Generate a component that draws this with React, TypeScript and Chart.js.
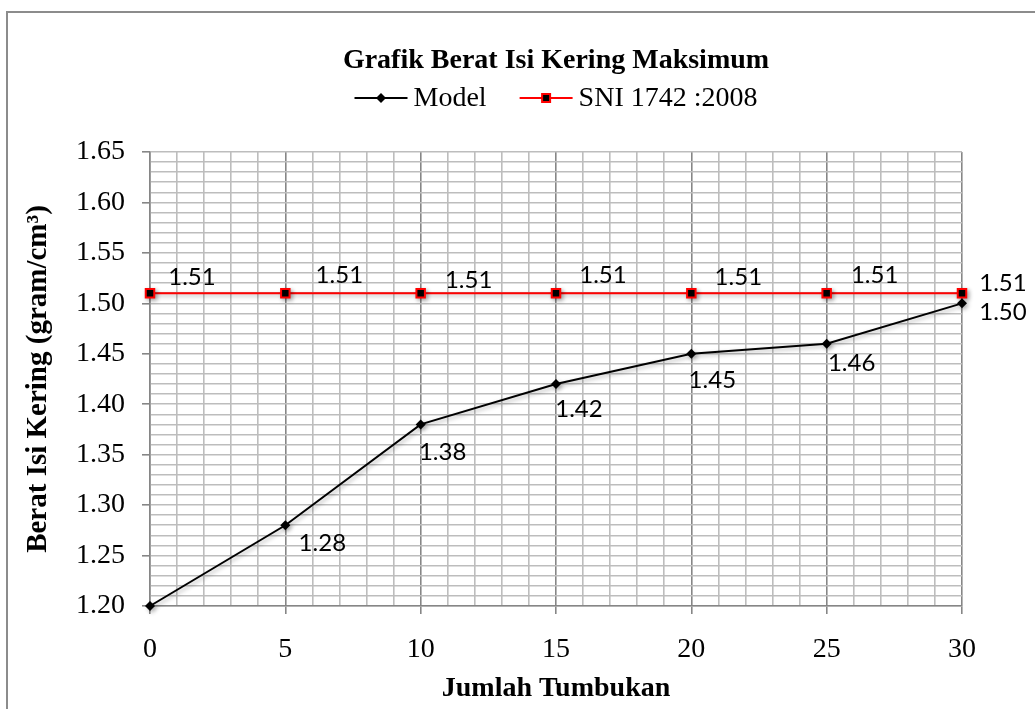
import React, { useEffect, useRef } from "react";
import { Chart, registerables } from "chart.js";

Chart.register(...registerables);

// ---- data ----
const xValues = [0, 5, 10, 15, 20, 25, 30];
const modelValues = [1.2, 1.28, 1.38, 1.42, 1.45, 1.46, 1.5];
const sniValues = [1.51, 1.51, 1.51, 1.51, 1.51, 1.51, 1.51];
const seriesNames = ["Model", "SNI 1742 :2008"];
const chartTitle = "Grafik Berat Isi Kering Maksimum";
const xAxisTitle = "Jumlah Tumbukan";
const yAxisTitle = "Berat Isi Kering (gram/cm³)";
const yRange = [1.2, 1.65];
const xRange = [0, 30];
const modelLabelShown = [false, true, true, true, true, true, true];

// ---- style (label offsets relative to the point) ----
const modelLabelOffsets = [
  [0, 0],
  [37, 18],
  [22, 28],
  [23, 25],
  [21, 26],
  [25, 20],
  [41, 9],
];
const sniLabelOffsets = [
  [42, -16],
  [54, -18],
  [48, -13],
  [47, -18],
  [47, -16],
  [48, -18],
  [41, -10],
];

const SERIF = "'Liberation Serif', 'Times New Roman', serif";
const LABEL_FONT = "24px Lato, 'Open Sans', sans-serif";

const decorPlugin = {
  id: "decor",
  beforeDraw(chart: any) {
    const { ctx } = chart;
    ctx.save();
    ctx.fillStyle = "#ffffff";
    ctx.fillRect(0, 0, chart.width, chart.height);
    ctx.strokeStyle = "#8c8c8c";
    ctx.lineWidth = 2;
    ctx.beginPath();
    ctx.moveTo(7, chart.height);
    ctx.lineTo(7, 12);
    ctx.lineTo(chart.width, 12);
    ctx.stroke();
    ctx.restore();
  },
  beforeDatasetsDraw(chart: any) {
    const { ctx } = chart;
    ctx.save();
    ctx.shadowColor = "rgba(0,0,0,0.3)";
    ctx.shadowBlur = 4;
    ctx.shadowOffsetX = 2;
    ctx.shadowOffsetY = 2;
  },
  afterDatasetsDraw(chart: any) {
    const { ctx } = chart;
    ctx.restore();
    ctx.save();
    ctx.font = LABEL_FONT;
    ctx.fillStyle = "#000";
    ctx.textAlign = "center";
    ctx.textBaseline = "middle";
    const m0 = chart.getDatasetMeta(0);
    m0.data.forEach((pt: any, i: number) => {
      if (!modelLabelShown[i]) return;
      const [dx, dy] = modelLabelOffsets[i];
      ctx.fillText(modelValues[i].toFixed(2), pt.x + dx, pt.y + dy);
    });
    const m1 = chart.getDatasetMeta(1);
    m1.data.forEach((pt: any, i: number) => {
      const [dx, dy] = sniLabelOffsets[i];
      ctx.fillText(sniValues[i].toFixed(2), pt.x + dx, pt.y + dy);
    });
    ctx.restore();
  },
  afterDraw(chart: any) {
    const { ctx, chartArea } = chart;
    const cx = (chartArea.left + chartArea.right) / 2;
    ctx.save();
    // title
    ctx.fillStyle = "#000";
    ctx.textAlign = "center";
    ctx.textBaseline = "middle";
    ctx.font = `bold 28px ${SERIF}`;
    ctx.fillText(chartTitle, cx, 61);
    // legend
    ctx.font = `28px ${SERIF}`;
    const lineLen = 53;
    const gap = 6;
    const itemGap = 33;
    const w0 = ctx.measureText(seriesNames[0]).width;
    const w1 = ctx.measureText(seriesNames[1]).width;
    const total = lineLen + gap + w0 + itemGap + lineLen + gap + w1;
    let x = cx - total / 2;
    const y = 98;
    ctx.textAlign = "left";
    // Model
    ctx.strokeStyle = "#000";
    ctx.lineWidth = 2;
    ctx.beginPath();
    ctx.moveTo(x, y);
    ctx.lineTo(x + lineLen, y);
    ctx.stroke();
    const mx = x + lineLen / 2;
    ctx.fillStyle = "#000";
    ctx.beginPath();
    ctx.moveTo(mx, y - 5);
    ctx.lineTo(mx + 5, y);
    ctx.lineTo(mx, y + 5);
    ctx.lineTo(mx - 5, y);
    ctx.closePath();
    ctx.fill();
    ctx.fillText(seriesNames[0], x + lineLen + gap, y + 1);
    x += lineLen + gap + w0 + itemGap;
    // SNI
    ctx.strokeStyle = "#ff0000";
    ctx.beginPath();
    ctx.moveTo(x, y);
    ctx.lineTo(x + lineLen, y);
    ctx.stroke();
    const sx = x + lineLen / 2;
    ctx.fillStyle = "#000";
    ctx.fillRect(sx - 4, y - 4, 8, 8);
    ctx.strokeStyle = "#ff0000";
    ctx.strokeRect(sx - 4, y - 4, 8, 8);
    ctx.fillStyle = "#000";
    ctx.fillText(seriesNames[1], x + lineLen + gap, y + 1);
    ctx.restore();
  },
};

export default function App() {
  const ref = useRef<HTMLCanvasElement | null>(null);

  useEffect(() => {
    if (!ref.current) return;
    const chart = new Chart(ref.current, {
      type: "line",
      data: {
        datasets: [
          {
            label: seriesNames[0],
            data: xValues.map((x, i) => ({ x, y: modelValues[i] })),
            borderColor: "#000000",
            backgroundColor: "#000000",
            borderWidth: 2,
            pointStyle: "rectRot",
            pointRadius: 5,
            pointBorderWidth: 0,
            pointBackgroundColor: "#000000",
            tension: 0,
            clip: false as any,
          },
          {
            label: seriesNames[1],
            data: xValues.map((x, i) => ({ x, y: sniValues[i] })),
            borderColor: "#ff0000",
            backgroundColor: "#000000",
            borderWidth: 2,
            pointStyle: "rect",
            pointRadius: 6,
            pointBorderWidth: 2,
            pointBorderColor: "#ff0000",
            pointBackgroundColor: "#000000",
            tension: 0,
            clip: false as any,
          },
        ],
      },
      options: {
        responsive: false,
        animation: false,
        devicePixelRatio: 1,
        layout: { padding: { left: 0, top: 152, right: 73, bottom: 0 } },
        plugins: {
          legend: { display: false },
          title: { display: false },
          tooltip: { enabled: false },
        },
        scales: {
          x: {
            type: "linear",
            min: xRange[0],
            max: xRange[1],
            afterFit: (s: any) => {
              s.height = 103;
            },
            border: { color: "#868686", width: 1.5 },
            grid: {
              color: (c: any) =>
                Math.round(c.tick.value) % 5 === 0 ? "#868686" : "#bdbdbd",
              lineWidth: 1.6,
              tickLength: 8,
              tickColor: (c: any) =>
                Math.round(c.tick.value) % 5 === 0 ? "#868686" : "rgba(0,0,0,0)",
            },
            ticks: {
              stepSize: 1,
              autoSkip: false,
              maxRotation: 0,
              padding: 19,
              color: "#000",
              font: { family: SERIF, size: 28 },
              callback: (v: any) =>
                Math.round(v) % 5 === 0 ? String(Math.round(v)) : "",
            },
            title: {
              display: true,
              text: xAxisTitle,
              color: "#000",
              font: { family: SERIF, size: 28, weight: "bold" },
              padding: { top: 0, bottom: 3 },
            },
          },
          y: {
            type: "linear",
            min: yRange[0],
            max: yRange[1],
            afterFit: (s: any) => {
              s.width = 150;
            },
            border: { color: "#868686", width: 1.5 },
            grid: {
              color: "#bdbdbd",
              lineWidth: 1.6,
              tickLength: 8,
              tickColor: (c: any) =>
                Math.round(c.tick.value * 100) % 5 === 0
                  ? "#868686"
                  : "rgba(0,0,0,0)",
            },
            ticks: {
              stepSize: 0.01,
              autoSkip: false,
              padding: 17,
              color: "#000",
              font: { family: SERIF, size: 28 },
              callback: (v: any) => {
                const k = Math.round(v * 100);
                return k % 5 === 0 ? (k / 100).toFixed(2) : "";
              },
            },
            title: {
              display: true,
              text: yAxisTitle,
              color: "#000",
              font: { family: SERIF, size: 29, weight: "bold" },
              padding: { top: 21, bottom: 0 },
            },
          },
        },
      } as any,
      plugins: [decorPlugin],
    });
    return () => chart.destroy();
  }, []);

  return (
    <div style={{ position: "absolute", left: 0, top: 0, width: 1035, height: 709 }}>
      <canvas ref={ref} width={1035} height={709} style={{ display: "block" }} />
    </div>
  );
}
